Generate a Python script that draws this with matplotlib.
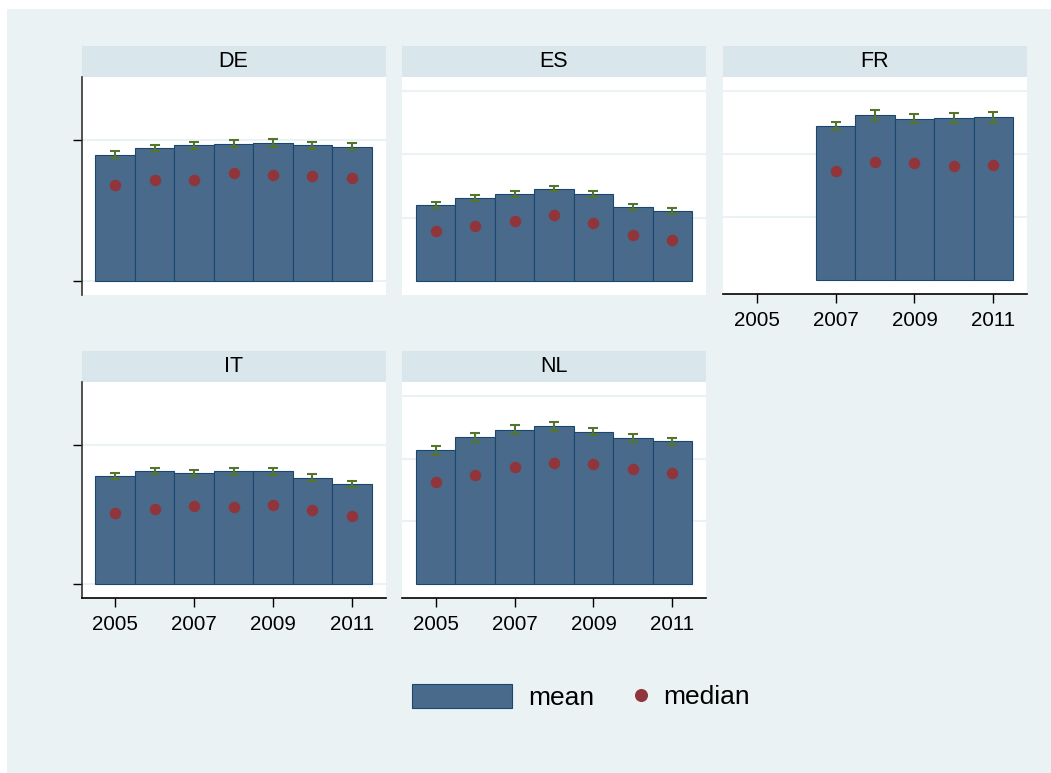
import numpy as np
import matplotlib.pyplot as plt
from matplotlib.patches import Rectangle

plt.rcParams['font.family'] = ['Liberation Sans', 'DejaVu Sans']

years = np.arange(2005, 2012)
xtick_years = [2005, 2007, 2009, 2011]

# mean (bar), half-width of the confidence interval, median (dot)
de_mean = [17.9, 18.9, 19.25, 19.5, 19.6, 19.3, 19.05]
de_err = [0.5, 0.47, 0.52, 0.5, 0.57, 0.5, 0.5]
de_median = [13.6, 14.3, 14.3, 15.3, 15.0, 14.9, 14.65]

es_mean = [11.95, 13.1, 13.7, 14.6, 13.7, 11.7, 11.0]
es_err = [0.47, 0.52, 0.45, 0.45, 0.45, 0.45, 0.45]
es_median = [7.9, 8.7, 9.5, 10.5, 9.1, 7.3, 6.5]

fr_mean = [np.nan, np.nan, 24.4, 26.2, 25.6, 25.7, 25.8]
fr_err = [np.nan, np.nan, 0.68, 0.76, 0.68, 0.79, 0.84]
fr_median = [np.nan, np.nan, 17.3, 18.7, 18.5, 18.05, 18.2]

it_mean = [15.5, 16.15, 15.9, 16.15, 16.15, 15.25, 14.4]
it_err = [0.4, 0.43, 0.43, 0.45, 0.47, 0.47, 0.4]
it_median = [10.25, 10.85, 11.25, 11.05, 11.3, 10.65, 9.8]

nl_mean = [21.3, 23.4, 24.6, 25.15, 24.3, 23.3, 22.75]
nl_err = [0.66, 0.71, 0.68, 0.68, 0.52, 0.58, 0.52]
nl_median = [16.2, 17.4, 18.6, 19.3, 19.15, 18.4, 17.7]

panels = {
    "DE": (de_mean, de_err, de_median),
    "ES": (es_mean, es_err, es_median),
    "FR": (fr_mean, fr_err, fr_median),
    "IT": (it_mean, it_err, it_median),
    "NL": (nl_mean, nl_err, nl_median),
}

# panel placement in pixels: (left, top of strip, plot bottom)
W, H = 1051, 773
layout = {
    "DE": (81.5, 46, 295, "left"),
    "ES": (402, 46, 295, "inner"),
    "FR": (723, 46, 294, "bottom"),
    "IT": (81.5, 351, 598, "leftbottom"),
    "NL": (402, 351, 598, "bottom"),
}
panel_w = 304
strip_h = 31

bg = '#eaf2f3'
strip_col = '#d9e6eb'
bar_col = '#496a8b'
bar_edge = '#1a476f'
med_col = '#90353b'
ci_col = '#55752f'


def px_rect(left, top, w, h):
    return [left / W, 1 - (top + h) / H, w / W, h / H]


fig = plt.figure(figsize=(W / 100, H / 100), dpi=100)
fig.patch.set_facecolor('white')
fig.add_artist(Rectangle((7 / W, 0), 1, 1 - 9 / H, transform=fig.transFigure,
                         facecolor=bg, edgecolor='none', zorder=-10))

for name, (mean, err, median) in panels.items():
    left, top, bottom, kind = layout[name]
    plot_top = top + strip_h

    # header strip
    sax = fig.add_axes(px_rect(left, top, panel_w, strip_h))
    sax.set_facecolor(strip_col)
    sax.set_xticks([])
    sax.set_yticks([])
    for s in sax.spines.values():
        s.set_visible(False)
    sax.text(0.5, 0.5, name, ha='center', va='center', fontsize=15.5,
             transform=sax.transAxes)

    ax = fig.add_axes(px_rect(left, plot_top, panel_w, bottom - plot_top))
    ax.set_facecolor('white')
    mean = np.array(mean, dtype=float)
    err = np.array(err, dtype=float)
    median = np.array(median, dtype=float)
    ok = ~np.isnan(mean)

    ax.bar(years[ok], mean[ok], width=1.0, color=bar_col, edgecolor=bar_edge,
           linewidth=0.8, zorder=2)
    ax.errorbar(years[ok], mean[ok], yerr=err[ok], fmt='none', ecolor=ci_col,
                elinewidth=1.5, capsize=3.3, capthick=1.5, zorder=3)
    ax.plot(years[ok], median[ok], 'o', color=med_col, ms=8.3, mec='none',
            zorder=4)

    ax.set_xlim(2004.15, 2011.85)
    if kind.startswith("left"):
        ax.set_ylim(-1.95, 28.95)
        ax.set_yticks([0, 20])
    else:
        ax.set_ylim(-2.2, 32.2)
        ax.set_yticks([10, 20, 30])
    ax.grid(axis='y', color=bg, linewidth=1.5)
    ax.set_axisbelow(True)

    for s in ['top', 'right']:
        ax.spines[s].set_visible(False)

    if kind.startswith("left"):
        ax.spines['left'].set_color('#333333')
        ax.spines['left'].set_linewidth(1.2)
        ax.tick_params(axis='y', length=6.5, width=1, color='black',
                       labelleft=False)
    else:
        ax.spines['left'].set_visible(False)
        ax.tick_params(axis='y', left=False, labelleft=False)

    if kind.endswith("bottom"):
        ax.spines['bottom'].set_color('black')
        ax.spines['bottom'].set_linewidth(1.2)
        ax.set_xticks(xtick_years)
        ax.tick_params(axis='x', length=6.5, width=1, labelsize=14.8, pad=6)
    else:
        ax.spines['bottom'].set_visible(False)
        ax.set_xticks([])

# legend: wide box for the mean bars, small key for the median dot
bar_key = Rectangle((0, 0), 1, 1, facecolor=bar_col, edgecolor=bar_edge,
                    linewidth=0.8)
med_key = plt.Line2D([], [], linestyle='none', marker='o', color=med_col,
                     ms=9.4, mec='none')
fig.legend(handles=[bar_key], labels=['mean'], loc='center left',
           bbox_to_anchor=(411.5 / W, 1 - 697 / H), frameon=False,
           fontsize=19, handlelength=3.8, handleheight=1.05,
           handletextpad=0.62, borderpad=0, borderaxespad=0)
fig.legend(handles=[med_key], labels=['median'], loc='center left',
           bbox_to_anchor=(630 / W, 1 - 697 / H), frameon=False,
           fontsize=19, handlelength=0.8, handletextpad=0.45, borderpad=0,
           borderaxespad=0)

fig.savefig('out.png', dpi=100, facecolor=fig.get_facecolor())
